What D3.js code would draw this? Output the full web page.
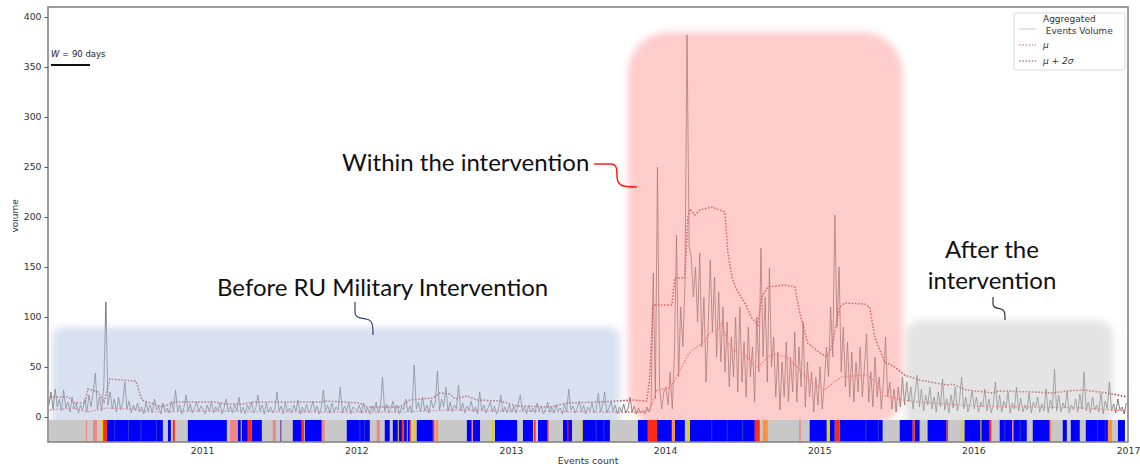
<!DOCTYPE html>
<html>
<head>
<meta charset="utf-8">
<script src="https://cdn.jsdelivr.net/npm/d3@7"></script>
<style>
  html, body { margin: 0; padding: 0; background: #fff; }
  svg { display: block; }
</style>
</head>
<body>
<svg id="chart" width="1140" height="468"></svg>
<script>
// Aggregated daily event volume, sampled every 5 days through each year
const vol2010 = [12,25,8,28,10,18,6,27,9,15,5,20,8,14,4,12,6,18,5,22,10,25,44,8,20,6,30,115,12,25,8,18,5,20,7,15,35,8,16,4,12,6,14,5,10,3,15,6,12,4,18,7,11,3,14,5,9,4,16,6,27,5,12,3,10,22,6,13,4,9,15,5,11];
const vol2011 = [8,3,12,5,16,4,10,6,14,3,9,18,5,11,4,13,6,20,4,10,3,12,7,15,4,9,22,6,12,3,14,5,10,4,8,25,6,11,3,15,5,9,4,12,6,17,3,10,5,13,4,8,16,5,11,3,9,27,6,12,4,14,5,10,7,30,4,11,6,15,3,10,8];
const vol2012 = [6,12,4,14,5,9,3,11,6,15,4,10,40,6,13,4,9,16,5,12,3,10,7,18,5,11,4,52,8,15,5,20,6,12,4,17,9,14,46,7,18,10,30,6,15,5,12,8,32,6,14,4,11,7,16,5,10,3,25,6,12,4,9,15,5,11,3,8,22,5,10,4,12];
const vol2013 = [5,11,4,13,22,6,10,3,12,5,9,4,14,6,11,3,8,15,5,10,4,12,6,9,3,13,5,28,7,11,4,9,16,5,12,3,10,6,14,4,8,24,5,11,25,4,9,15,6,12,3,10,5,13,4,8,20,5,11,3,9,4,7,3,10,5,12,144,18,250,30,8,25];
const vol2014 = [30,12,45,8,60,182,40,110,70,130,382,170,160,120,150,95,164,70,120,35,90,157,85,140,60,125,55,110,45,95,30,80,40,100,25,110,35,75,20,90,40,70,15,100,45,169,60,120,35,149,50,80,20,65,7,55,20,75,15,60,25,85,15,70,30,95,10,55,20,45,5,40,12];
const vol2015 = [50,8,35,70,40,110,60,202,90,150,45,90,30,75,20,65,15,55,25,70,20,50,83,15,45,10,60,20,40,8,35,80,20,35,8,28,5,30,10,40,12,35,15,30,8,25,42,10,28,6,22,12,30,8,20,5,25,10,38,7,18,4,22,9,30,6,16,40,8,20,5,14,26];
const vol2016 = [8,20,5,15,10,28,6,18,4,12,35,7,22,5,16,9,25,4,14,8,30,6,19,5,12,7,24,4,15,9,20,5,13,6,28,4,17,8,48,6,22,5,14,9,26,4,12,7,18,5,23,8,45,6,15,4,20,7,12,5,24,3,16,8,35,6,13,4,18,7,10,3,14];
const volumeYears = [2010, 2011, 2012, 2013, 2014, 2015, 2016];
const volumeSeries = [vol2010, vol2011, vol2012, vol2013, vol2014, vol2015, vol2016];
const sampleStepDays = 5;

// Rolling mean (W = 90 days), as decimal year -> value
const muYears  = [2010.013,2010.162,2010.253,2010.382,2010.551,2010.661,2010.985,2011.633,2012.281,2012.605,2012.929,2013.578,2013.869,2013.901,2013.947,2014.031,2014.063,2014.141,2014.174,2014.245,2014.290,2014.336,2014.368,2014.400,2014.439,2014.504,2014.569,2014.601,2014.660,2014.712,2014.789,2014.874,2014.958,2015.036,2015.087,2015.146,2015.308,2015.373,2015.411,2015.541,2015.651,2015.995,2016.384,2016.708,2016.993];
const muValues = [7,9,5,9,8,5,6,5,5,7,6,5,5,8,27,29,37,60,67,74,84,87,94,77,67,64,54,50,59,63,60,47,34,27,34,40,42,34,22,17,15,11,10,9,6];

// Rolling mean + 2 standard deviations
const upperYears  = [2010.013,2010.130,2010.175,2010.240,2010.259,2010.324,2010.363,2010.402,2010.480,2010.570,2010.609,2010.745,2010.823,2011.082,2011.147,2011.277,2011.322,2011.763,2011.808,2012.022,2012.067,2012.281,2012.346,2012.495,2012.540,2012.605,2012.638,2012.715,2012.780,2012.929,2013.040,2013.253,2013.364,2013.578,2013.791,2013.882,2013.901,2013.921,2014.044,2014.063,2014.128,2014.148,2014.161,2014.193,2014.226,2014.303,2014.388,2014.407,2014.433,2014.465,2014.517,2014.563,2014.601,2014.627,2014.666,2014.776,2014.841,2014.874,2014.925,2015.003,2015.049,2015.081,2015.133,2015.165,2015.295,2015.327,2015.360,2015.424,2015.489,2015.554,2015.651,2015.826,2015.865,2015.956,2016.124,2016.170,2016.384,2016.513,2016.604,2016.708,2016.818,2016.902,2016.993];
const upperValues = [20,20,14,14,28,25,15,38,37,36,17,10,15,15,13,13,15,15,16,14,10,10,17,19,24,23,18,21,17,16,11,10,14,15,17,16,40,112,112,139,139,200,208,202,207,210,205,165,140,127,114,99,92,120,130,132,130,104,74,64,60,70,110,114,113,110,80,55,50,42,37,32,33,27,24,26,25,24,26,27,25,23,20];

// Event-count band under the plot: runs of days by category
const stripStart = [2010.246,2010.292,2010.350,2010.357,2010.382,2010.778,2010.810,2010.907,2011.180,2011.231,2011.250,2011.296,2011.322,2011.458,2011.506,2011.588,2011.646,2011.666,2011.776,2011.938,2012.132,2012.184,2012.236,2012.268,2012.294,2012.307,2012.327,2012.346,2012.372,2012.391,2012.495,2012.515,2012.715,2012.745,2012.878,2012.897,2013.078,2013.150,2013.176,2013.234,2013.338,2013.366,2013.455,2013.465,2013.824,2013.888,2013.947,2014.044,2014.063,2014.141,2014.161,2014.582,2014.634,2014.870,2014.938,2015.049,2015.068,2015.100,2015.133,2015.522,2015.606,2015.620,2015.703,2015.826,2015.920,2015.943,2016.045,2016.105,2016.170,2016.250,2016.384,2016.494,2016.578,2016.630,2016.727,2016.870,2016.935,
  2010.430,2010.520,2010.600,2010.700,2012.020,2012.050,2013.550,2013.600,2014.300,2014.400,2014.500,2015.300,2015.380,2016.200,2016.300,2016.800,2016.850];
const stripEnd   = [2010.253,2010.318,2010.357,2010.382,2010.745,2010.797,2010.823,2011.160,2011.225,2011.296,2011.257,2011.322,2011.387,2011.478,2011.514,2011.646,2011.660,2011.776,2011.795,2012.087,2012.152,2012.216,2012.301,2012.275,2012.307,2012.346,2012.333,2012.352,2012.385,2012.495,2012.505,2012.528,2012.800,2012.755,2012.890,2013.040,2013.143,2013.160,2013.234,2013.244,2013.396,2013.373,2013.465,2013.642,2013.888,2013.947,2014.044,2014.063,2014.128,2014.161,2014.582,2014.614,2014.666,2014.880,2015.049,2015.068,2015.100,2015.133,2015.411,2015.606,2015.620,2015.651,2015.826,2015.836,2015.930,2016.105,2016.052,2016.115,2016.345,2016.260,2016.494,2016.504,2016.604,2016.688,2016.870,2016.896,2016.980,
  2010.436,2010.526,2010.606,2010.706,2012.026,2012.056,2013.556,2013.606,2014.306,2014.406,2014.506,2015.306,2015.386,2016.206,2016.306,2016.806,2016.856];
const stripCat   = ["pink","pink","yellow","red","blue","blue","red","blue","pink","blue","yellow","red","blue","pink","purple","blue","red","blue","pink","blue","pink","blue","blue","yellow","red","blue","yellow","red","yellow","blue","red","orange","blue","pink","yellow","blue","blue","red","blue","red","blue","red","yellow","blue","blue","red","blue","orange","blue","yellow","blue","red","orange","pink","blue","yellow","blue","red","blue","blue","red","blue","blue","red","yellow","blue","yellow","red","blue","pink","blue","orange","blue","blue","blue","orange","blue",
  "navy","navy","navy","navy","navy","navy","navy","navy","navy","navy","navy","navy","navy","navy","navy","navy","navy"];
const stripFirst = 2010.006, stripLast = 2016.980;
const stripColors = { blue: "#0000ff", red: "#ff2a10", pink: "#f08585", orange: "#ff9040",
                      yellow: "#e6d200", purple: "#6a4cb0", navy: "#3838c0" };

// Shaded periods: [start, end, top value]
const beforePeriod = [2010.026, 2013.707, 90];
const withinPeriod = [2013.760, 2015.541, 385];
const afterPeriod  = [2015.556, 2016.902, 97];

const yTicks = [0, 50, 100, 150, 200, 250, 300, 350, 400];
const xTickYears = [2011, 2012, 2013, 2014, 2015, 2016, 2017];
const windowLabel = "90 days";

// ---------------------------------------------------------------------
const svg = d3.select("#chart");
const plot = { left: 48, right: 1128, top: 7, bottom: 442 };

const yearToDate = v => {
  const y0 = Math.floor(v);
  const a = new Date(y0, 0, 1).getTime(), b = new Date(y0 + 1, 0, 1).getTime();
  return new Date(a + (v - y0) * (b - a));
};

const x = d3.scaleTime()
  .domain([new Date(2010, 0, 1), new Date(2017, 0, 1)])
  .range([plot.left, plot.right]);
const y = d3.scaleLinear().domain([0, 400]).range([417, 17]);

const defs = svg.append("defs");
defs.append("filter").attr("id", "soft")
  .attr("filterUnits", "userSpaceOnUse")
  .attr("x", 0).attr("y", 0).attr("width", 1140).attr("height", 468)
  .append("feGaussianBlur").attr("stdDeviation", 3.5);
defs.append("clipPath").attr("id", "plotClip")
  .append("rect").attr("x", plot.left).attr("y", plot.top)
  .attr("width", plot.right - plot.left).attr("height", plot.bottom - plot.top);
defs.append("clipPath").attr("id", "ylabClip")
  .append("rect").attr("x", 13).attr("y", 0).attr("width", 35).attr("height", 468);

const g = svg.append("g").attr("clip-path", "url(#plotClip)");

// volume series
const volumePoints = [];
volumeYears.forEach((yr, k) => {
  volumeSeries[k].forEach((v, i) => {
    volumePoints.push({ date: new Date(yr, 0, 1 + i * sampleStepDays + 2), value: v });
  });
});
const line = d3.line().x(d => x(d.date)).y(d => y(d.value));
g.append("path").datum(volumePoints)
  .attr("d", line).attr("fill", "none")
  .attr("stroke", "#585858").attr("stroke-width", 0.9).attr("stroke-opacity", 0.85);

// rolling statistics
const muPts = muYears.map((t, i) => ({ date: yearToDate(t), value: muValues[i] }));
const upPts = upperYears.map((t, i) => ({ date: yearToDate(t), value: upperValues[i] }));
g.append("path").datum(muPts).attr("d", line).attr("fill", "none")
  .attr("stroke", "#f25a5a").attr("stroke-width", 1.3).attr("stroke-dasharray", "1.6,1.6");
g.append("path").datum(upPts).attr("d", line).attr("fill", "none")
  .attr("stroke", "#b03535").attr("stroke-width", 1.5).attr("stroke-dasharray", "1.6,1.6");

// shaded periods
const shade = (p, fill, rx) => {
  g.append("rect")
    .attr("x", x(yearToDate(p[0]))).attr("y", y(p[2]))
    .attr("width", x(yearToDate(p[1])) - x(yearToDate(p[0])))
    .attr("height", 430 - y(p[2]))
    .attr("rx", rx).attr("ry", rx)
    .attr("fill", fill).attr("fill-opacity", 0.5)
    .attr("filter", "url(#soft)");
};
shade(beforePeriod, "#b4c3e2", 10);
shade(withinPeriod, "#ff9a9a", 40);
shade(afterPeriod, "#c9c9c9", 16);

// event-count band
const stripTop = y(-3), stripBottom = y(-25);
g.append("rect").attr("x", x(yearToDate(stripFirst))).attr("y", stripTop)
  .attr("width", x(yearToDate(stripLast)) - x(yearToDate(stripFirst)))
  .attr("height", stripBottom - stripTop).attr("fill", "#c8c8c8");
const runs = stripStart.map((s, i) => ({ s, e: stripEnd[i], c: stripCat[i] }))
  .sort((a, b) => (b.e - b.s) - (a.e - a.s));
g.selectAll("rect.run").data(runs).join("rect").attr("class", "run")
  .attr("x", d => x(yearToDate(d.s)))
  .attr("width", d => Math.max(0.8, x(yearToDate(d.e)) - x(yearToDate(d.s))))
  .attr("y", stripTop).attr("height", stripBottom - stripTop)
  .attr("fill", d => stripColors[d.c]);

// frame
svg.append("rect").attr("x", plot.left).attr("y", plot.top)
  .attr("width", plot.right - plot.left).attr("height", plot.bottom - plot.top)
  .attr("fill", "none").attr("stroke", "#858585").attr("stroke-width", 1.6);

// y axis
const yAxis = svg.append("g").attr("transform", `translate(${plot.left},0)`)
  .call(d3.axisLeft(y).tickValues(yTicks).tickSize(3.5).tickPadding(3));
yAxis.select(".domain").remove();
yAxis.selectAll("line").attr("stroke", "#555");
yAxis.selectAll("text").attr("font-family", "DejaVu Sans").attr("font-size", 9.3).attr("fill", "#333");

// x axis labels
const xAxis = svg.append("g").attr("transform", `translate(0,${plot.bottom})`)
  .call(d3.axisBottom(x).tickValues(xTickYears.map(v => new Date(v, 0, 1)))
    .tickFormat(d3.timeFormat("%Y")).tickSize(0).tickPadding(5));
xAxis.select(".domain").remove();
xAxis.selectAll("text").attr("font-family", "DejaVu Sans").attr("font-size", 9.3).attr("fill", "#333");

svg.append("text").attr("x", (plot.left + plot.right) / 2).attr("y", 464)
  .attr("text-anchor", "middle").attr("font-family", "DejaVu Sans").attr("font-size", 9.3)
  .attr("fill", "#333").text("Events count");

svg.append("g").attr("clip-path", "url(#ylabClip)")
  .append("text").attr("transform", "translate(18,216) rotate(-90)")
  .attr("text-anchor", "middle").attr("font-family", "DejaVu Sans").attr("font-size", 9)
  .attr("fill", "#333").text("Volume");

// window size marker
const wl = svg.append("text").attr("x", 51).attr("y", 57)
  .attr("font-family", "DejaVu Sans").attr("font-size", 8.5).attr("fill", "#222");
wl.append("tspan").attr("font-style", "italic").text("W");
wl.append("tspan").text(" = " + windowLabel);
svg.append("line").attr("x1", 51).attr("x2", 90).attr("y1", 65).attr("y2", 65)
  .attr("stroke", "#111").attr("stroke-width", 2);

// legend
const lg = svg.append("g").attr("font-family", "DejaVu Sans").attr("font-size", 9).attr("fill", "#333");
lg.append("rect").attr("x", 1014).attr("y", 13).attr("width", 111).attr("height", 57)
  .attr("rx", 2).attr("fill", "#fff").attr("fill-opacity", 0.85)
  .attr("stroke", "#d8d8d8").attr("stroke-width", 1);
lg.append("line").attr("x1", 1019).attr("x2", 1036).attr("y1", 29).attr("y2", 29)
  .attr("stroke", "#c8c8c8").attr("stroke-width", 1);
lg.append("text").attr("x", 1043).attr("y", 22).text("Aggregated");
lg.append("text").attr("x", 1043).attr("y", 34).attr("xml:space", "preserve").text(" Events Volume");
lg.append("line").attr("x1", 1019).attr("x2", 1036).attr("y1", 45).attr("y2", 45)
  .attr("stroke", "#f25a5a").attr("stroke-width", 1.2).attr("stroke-dasharray", "1.6,1.6");
lg.append("text").attr("x", 1043).attr("y", 48).attr("font-style", "italic").text("μ");
lg.append("line").attr("x1", 1019).attr("x2", 1036).attr("y1", 61).attr("y2", 61)
  .attr("stroke", "#b03535").attr("stroke-width", 1.2).attr("stroke-dasharray", "1.6,1.6");
lg.append("text").attr("x", 1043).attr("y", 64).attr("font-style", "italic").text("μ + 2σ");

// period annotations
const ann = svg.append("g").attr("font-family", "Lato").attr("font-size", 24).attr("fill", "#111");
ann.append("text").attr("x", 342).attr("y", 171).text("Within the intervention");
ann.append("text").attr("x", 217).attr("y", 296).text("Before RU Military Intervention");
ann.append("text").attr("x", 992).attr("y", 258).attr("text-anchor", "middle").text("After the");
ann.append("text").attr("x", 992).attr("y", 289).attr("text-anchor", "middle").text("intervention");

svg.append("path").attr("d", "M594,164 L611,164 C617,164 617,170 617,176 C617,186 622,187 637,187")
  .attr("fill", "none").attr("stroke", "#ff1a1a").attr("stroke-width", 1.5);
svg.append("path").attr("d", "M355,302 L355,312 C355,318 360,318 366,319 C372,320 373,323 373,335")
  .attr("fill", "none").attr("stroke", "#34427a").attr("stroke-width", 1.2);
svg.append("path").attr("d", "M993,297 L993,304 C993,308 997,308 1001,309 C1005,310 1005,313 1005,320")
  .attr("fill", "none").attr("stroke", "#222").attr("stroke-width", 1.1);
</script>
</body>
</html>
